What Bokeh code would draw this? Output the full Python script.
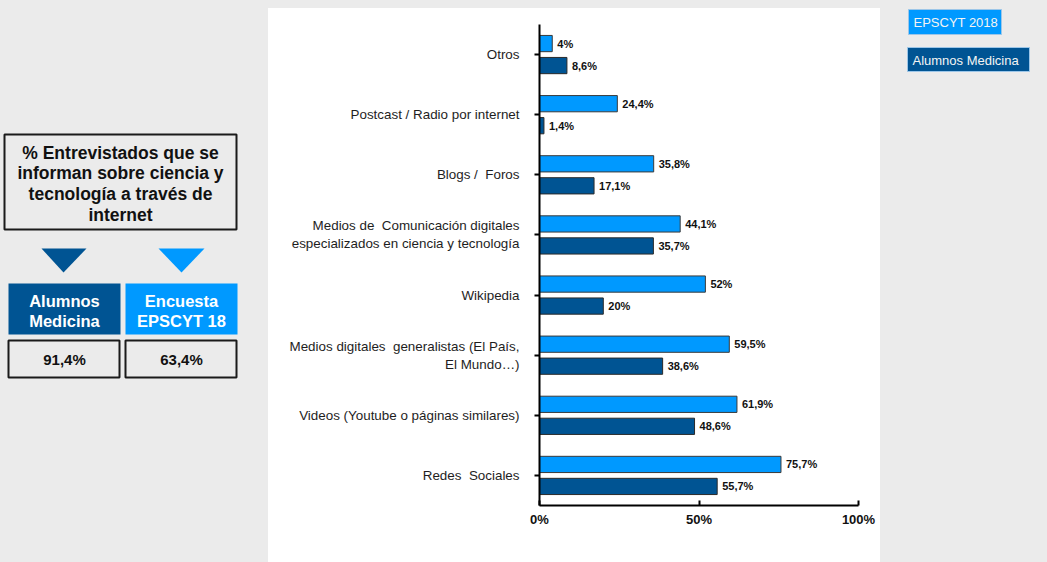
from bokeh.plotting import figure
from bokeh.models import ColumnDataSource, FactorRange, Range1d, FixedTicker
from bokeh.transform import dodge
from bokeh.layouts import row
from bokeh.core.properties import value
from bokeh.embed import file_html
from bokeh.resources import INLINE

# ---------------- data ----------------
categories = [
    "Otros",
    "Postcast / Radio por internet",
    "Blogs / \u00a0Foros",
    "Medios de \u00a0Comunicación digitales\nespecializados en ciencia y tecnología",
    "Wikipedia",
    "Medios digitales \u00a0generalistas (El País,\nEl Mundo…)",
    "Videos (Youtube o páginas similares)",
    "Redes \u00a0Sociales",
]
epscyt_2018 = [4, 24.4, 35.8, 44.1, 52, 59.5, 61.9, 75.7]
alumnos_medicina = [8.6, 1.4, 17.1, 35.7, 20, 38.6, 48.6, 55.7]
x_ticks = [0, 50, 100]
x_tick_labels = ["0%", "50%", "100%"]
series_names = ["EPSCYT 2018", "Alumnos Medicina"]
title_lines = ["% Entrevistados que se", "informan sobre ciencia y",
               "tecnología a través de", "internet"]
summary_groups = [["Alumnos", "Medicina"], ["Encuesta", "EPSCYT 18"]]
summary_values = [91.4, 63.4]

LIGHT = "#0099ff"
DARK = "#005493"
BG = "#ebebeb"
FONT = value("Liberation Sans")


def pct(v):
    s = f"{v:.1f}".rstrip("0").rstrip(".")
    return s.replace(".", ",") + "%"


# ---------------- chart ----------------
src = ColumnDataSource(dict(
    cat=categories,
    e=epscyt_2018,
    a=alumnos_medicina,
    le=[pct(v) for v in epscyt_2018],
    la=[pct(v) for v in alumnos_medicina],
))

TOP, BOTTOM = 16, 57

p = figure(width=612, height=554, output_backend="svg", toolbar_location=None,
           y_range=FactorRange(factors=list(reversed(categories))),
           x_range=Range1d(0, 100),
           min_border_left=271, min_border_right=22, min_border_top=TOP,
           min_border_bottom=BOTTOM)
p.margin = (8, 0, 0, 0)
p.styles = {"background-color": "white"}
p.background_fill_color = "white"
p.border_fill_color = "white"
p.outline_line_color = None
p.grid.grid_line_color = None

OFF = 0.183
H = 0.27
p.hbar(y=dodge("cat", OFF, range=p.y_range), left=0, right="e", height=H,
       source=src, fill_color=LIGHT, line_color="#3a3a3a", line_width=1)
p.hbar(y=dodge("cat", -OFF, range=p.y_range), left=0, right="a", height=H,
       source=src, fill_color=DARK, line_color="#2a2a2a", line_width=1)
p.text(x="e", y=dodge("cat", OFF, range=p.y_range), text="le", source=src,
       x_offset=5, text_baseline="middle", text_align="left",
       text_font=FONT, text_font_style="bold", text_font_size="11px",
       text_color="#111111")
p.text(x="a", y=dodge("cat", -OFF, range=p.y_range), text="la", source=src,
       x_offset=5, text_baseline="middle", text_align="left",
       text_font=FONT, text_font_style="bold", text_font_size="11px",
       text_color="#111111")

xa = p.xaxis[0]
xa.ticker = FixedTicker(ticks=x_ticks)
xa.major_label_overrides = {t: l for t, l in zip(x_ticks, x_tick_labels)}
xa.minor_tick_line_color = None
xa.major_tick_in = 5
xa.major_tick_out = 0
xa.major_tick_line_width = 2
xa.major_tick_line_color = "black"
xa.axis_line_width = 2
xa.axis_line_color = "black"
xa.major_label_text_font = "Liberation Sans"
xa.major_label_text_font_style = "bold"
xa.major_label_text_font_size = "13px"
xa.major_label_text_color = "#111111"
xa.major_label_standoff = 6

ya = p.yaxis[0]
ya.major_tick_in = 0
ya.major_tick_out = 5
ya.major_tick_line_width = 2
ya.major_tick_line_color = "black"
ya.axis_line_width = 2
ya.axis_line_color = "black"
ya.major_label_text_font = "Liberation Sans"
ya.major_label_text_font_size = "13.4px"
ya.major_label_text_color = "#1e1e1e"
ya.major_label_standoff = 15


def side_figure(w):
    f = figure(width=w, height=562, output_backend="svg", toolbar_location=None,
               x_range=Range1d(0, w), y_range=Range1d(562 - BOTTOM, TOP),
               min_border_left=0, min_border_right=0,
               min_border_top=TOP, min_border_bottom=BOTTOM)
    f.axis.visible = False
    f.grid.visible = False
    f.outline_line_color = None
    f.background_fill_color = BG
    f.border_fill_color = BG
    return f


# ---------------- left panel ----------------
lf = side_figure(268)
rs = []
rs.append(lf.quad(left=[4], right=[236], top=[134], bottom=[229], fill_color=BG,
                  line_color="#1a1a1a", line_width=2))
rs.append(lf.text(x=[120] * 4, y=[152, 172, 193, 214], text=title_lines,
                  text_align="center", text_baseline="middle", text_font=FONT,
                  text_font_style="bold", text_font_size="17.5px",
                  text_color="#111111"))
rs.append(lf.patches(xs=[[41, 86, 63], [158, 204, 181]],
                     ys=[[248, 248, 272], [248, 248, 272]],
                     fill_color=[DARK, LIGHT], line_color=None))
rs.append(lf.quad(left=[8, 125], right=[120, 237], top=[283, 283],
                  bottom=[334, 334], fill_color=[DARK, LIGHT], line_color=None))
for cx, lines in zip([64, 181], summary_groups):
    rs.append(lf.text(x=[cx, cx], y=[300, 320], text=lines, text_align="center",
                      text_baseline="middle", text_font=FONT,
                      text_font_style="bold", text_font_size="16.5px",
                      text_color="white"))
rs.append(lf.quad(left=[8, 125], right=[119, 236], top=[340, 340],
                  bottom=[377, 377], fill_color=BG, line_color="#1a1a1a",
                  line_width=2))
rs.append(lf.text(x=[64, 181], y=[359, 359], text=[pct(v) for v in summary_values],
                  text_align="center", text_baseline="middle", text_font=FONT,
                  text_font_style="bold", text_font_size="15px",
                  text_color="#111111"))

# ---------------- right panel (legend) ----------------
rf = side_figure(167)
rs.append(rf.quad(left=[28, 27], right=[121, 149], top=[9, 47], bottom=[34, 71],
                  fill_color=[LIGHT, DARK], line_color="#9cc6e8", line_width=1))
rs.append(rf.text(x=[33, 32], y=[21.5, 59.5], text=series_names,
                  text_align="left", text_baseline="middle", text_font=FONT,
                  text_font_size="13px", text_color="#f4f4f4"))
for r in rs:
    r.level = "overlay"

layout = row(lf, p, rf, spacing=0)

html = file_html(layout, INLINE)
html = html.replace(
    "</head>",
    "<style>html,body{margin:0;padding:0;background:#ebebeb;overflow:hidden}</style></head>",
    1)
open("out.html", "w").write(html)
